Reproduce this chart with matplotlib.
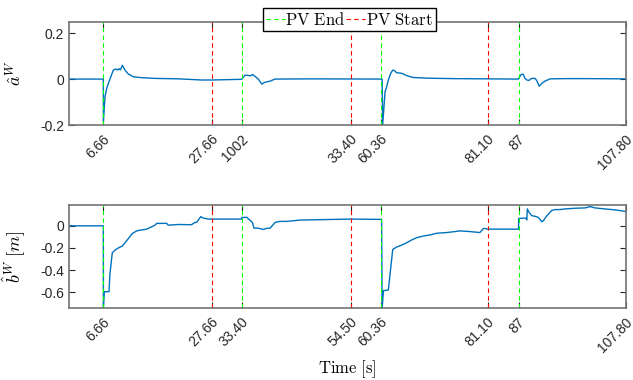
import matplotlib
matplotlib.use("Agg")
import matplotlib.pyplot as plt
from matplotlib.lines import Line2D
from matplotlib.transforms import ScaledTranslation

plt.rcParams["mathtext.fontset"] = "cm"
plt.rcParams["font.family"] = "Liberation Sans"
plt.rcParams["axes.unicode_minus"] = False

# event times [s]
pv_end = [6.66, 33.40, 60.36, 87.0]
pv_start = [27.66, 54.50, 81.10, 107.80]

# tick positions and labels (top panel labels differ from bottom one)
tick_pos = [6.66, 27.66, 33.40, 54.50, 60.36, 81.10, 87.0, 107.80]
top_labels = ["6.66", "27.66", "1002", "33.40", "60.36", "81.10", "87", "107.80"]
bot_labels = ["6.66", "27.66", "33.40", "54.50", "60.36", "81.10", "87", "107.80"]

# a^W estimate
t_a = [0, 6.64, 6.66, 6.97, 7.3, 7.93, 8.58, 9.03, 9.42, 9.68, 9.95, 10.32, 10.84,
       11.48, 12.45, 14.07, 16.64, 21.2, 25.7, 27.66, 33.42, 34.06, 34.7, 35.1, 35.5,
       36.0, 36.64, 37.3, 37.9, 38.9, 39.87, 46.6, 60.6, 60.7, 61.0, 61.16, 61.49,
       61.8, 62.26, 62.65, 62.9, 63.4, 64.4, 65.36, 66.6, 69.2, 74.3, 80.8, 86.96,
       87.5, 87.9, 88.25, 88.6, 89.0, 89.5, 90.2, 90.5, 91.0, 91.5, 92.1, 93.1, 96.0,
       99.9, 107.8]
a_w = [0, 0, -0.186, -0.077, -0.04, 0.0, 0.039, 0.044, 0.04, 0.045, 0.04, 0.06, 0.039,
       0.022, 0.01, 0.006, 0.003, 0.001, -0.004, -0.004, -0.001, 0.017, 0.016, 0.014,
       0.02, 0.012, 0.0, -0.022, -0.014, -0.009, 0.0, 0.001, 0.0, -0.2, -0.106, -0.055,
       -0.033, -0.004, 0.025, 0.039, 0.038, 0.028, 0.025, 0.015, 0.007, 0.004, 0.002,
       0.001, 0.0, 0.02, 0.021, 0.003, -0.004, -0.006, 0.003, 0.003, -0.006, -0.031,
       -0.019, -0.009, 0.001, 0.002, 0.002, 0.001]

# b^W estimate [m]
t_b = [0, 6.64, 6.66, 6.83, 7.74, 7.93, 8.38, 8.9, 9.55, 10.3, 10.84, 11.48, 12.25,
       13.1, 14.07, 15.04, 15.7, 16.64, 16.97, 18.9, 19.2, 21.2, 23.7, 24.4, 24.7,
       25.5, 26.0, 26.96, 33.4, 33.45, 34.4, 35.5, 35.8, 36.6, 37.6, 38.3, 38.9, 39.9,
       40.8, 42.1, 44.7, 48.0, 54.4, 60.5, 60.6, 60.85, 61.8, 62.26, 62.65, 63.4,
       64.4, 65.36, 66.3, 67.3, 68.6, 69.9, 71.2, 73.1, 75.7, 77.6, 79.5, 80.2, 80.5,
       81.0, 87.0, 87.02, 88.4, 88.6, 88.7, 89.03, 89.55, 90.2, 90.8, 91.5, 91.8,
       92.4, 93.4, 94.0, 95.0, 96.0, 97.9, 99.9, 100.8, 101.8, 103.7, 105.7, 107.8]
b_w = [0, 0, -0.73, -0.596, -0.596, -0.43, -0.244, -0.22, -0.2, -0.183, -0.153, -0.116,
       -0.07, -0.046, -0.037, -0.03, -0.015, 0.006, 0.022, 0.022, 0.006, 0.012, 0.01,
       0.031, 0.031, 0.083, 0.07, 0.061, 0.061, 0.075, 0.077, 0.03, -0.021, -0.021,
       -0.033, -0.022, -0.022, 0.031, 0.04, 0.04, 0.052, 0.055, 0.061, 0.058, -0.75,
       -0.587, -0.58, -0.382, -0.214, -0.192, -0.174, -0.153, -0.128, -0.107, -0.092,
       -0.082, -0.067, -0.061, -0.046, -0.052, -0.061, -0.024, -0.024, -0.03, -0.03,
       0.067, 0.07, 0.053, 0.153, 0.122, 0.092, 0.086, 0.077, 0.037, 0.046, 0.086,
       0.138, 0.147, 0.147, 0.153, 0.159, 0.162, 0.174, 0.162, 0.153, 0.144, 0.13]

blue = "#0072BD"
green = "#00FF00"
red = "#FF0000"

fig = plt.figure(figsize=(6.33, 3.8), dpi=100)
ax1 = fig.add_axes([0.109, 0.671, 0.880, 0.272])
ax2 = fig.add_axes([0.109, 0.189, 0.880, 0.272])

# small shift to the right for the rotated tick labels
shift = ScaledTranslation(3 / 72, 0, fig.dpi_scale_trans)


def style(ax, labels):
    for x in pv_end:
        ax.axvline(x, color=green, lw=0.8, dashes=(4, 3))
    for x in pv_start:
        ax.axvline(x, color=red, lw=0.8, dashes=(4, 3))
    ax.set_xlim(0, 107.8)
    ax.set_xticks(tick_pos)
    ax.set_xticklabels(labels, rotation=45, ha="right", va="center",
                       rotation_mode="anchor")
    ax.tick_params(direction="in", top=True, right=True, length=4, width=0.8,
                   color="0.15", labelsize=10, labelcolor="0.15")
    ax.tick_params(axis="x", pad=8.5)
    for lab in ax.get_xticklabels():
        lab.set_transform(lab.get_transform() + shift)
    for s in ax.spines.values():
        s.set_color("0.45")
        s.set_linewidth(1.2)


ax1.plot(t_a, a_w, color=blue, lw=1)
style(ax1, top_labels)
ax1.set_ylim(-0.2, 0.25)
ax1.set_yticks([-0.2, 0, 0.2])
ax1.set_yticklabels(["-0.2", "0", "0.2"])
ax1.set_ylabel(r"$\hat{a}^W$", fontsize=13)
ax1.yaxis.set_label_coords(-0.078, 0.5)

ax2.plot(t_b, b_w, color=blue, lw=1)
style(ax2, bot_labels)
ax2.set_ylim(-0.745, 0.19)
ax2.set_yticks([-0.6, -0.4, -0.2, 0])
ax2.set_yticklabels(["-0.6", "-0.4", "-0.2", "0"])
ax2.set_ylabel(r"$\hat{b}^W\ [m]$", fontsize=13)
ax2.yaxis.set_label_coords(-0.075, 0.5)
ax2.set_xlabel(r"$\mathrm{Time\ [s]}$", fontsize=12)
ax2.xaxis.set_label_coords(0.5, -0.48)

handles = [Line2D([], [], color=green, lw=0.8, dashes=(4, 3)),
           Line2D([], [], color=red, lw=0.8, dashes=(4, 3))]
fig.legend(handles, [r"$\mathrm{PV\ End}$", r"$\mathrm{PV\ Start}$"],
           loc="center", bbox_to_anchor=(0.552, 0.949), ncol=2, fontsize=12,
           handlelength=1.1, handletextpad=0.05, columnspacing=0.05,
           borderpad=0.2, fancybox=False, framealpha=1, edgecolor="black")

fig.savefig("out.png", dpi=100)
